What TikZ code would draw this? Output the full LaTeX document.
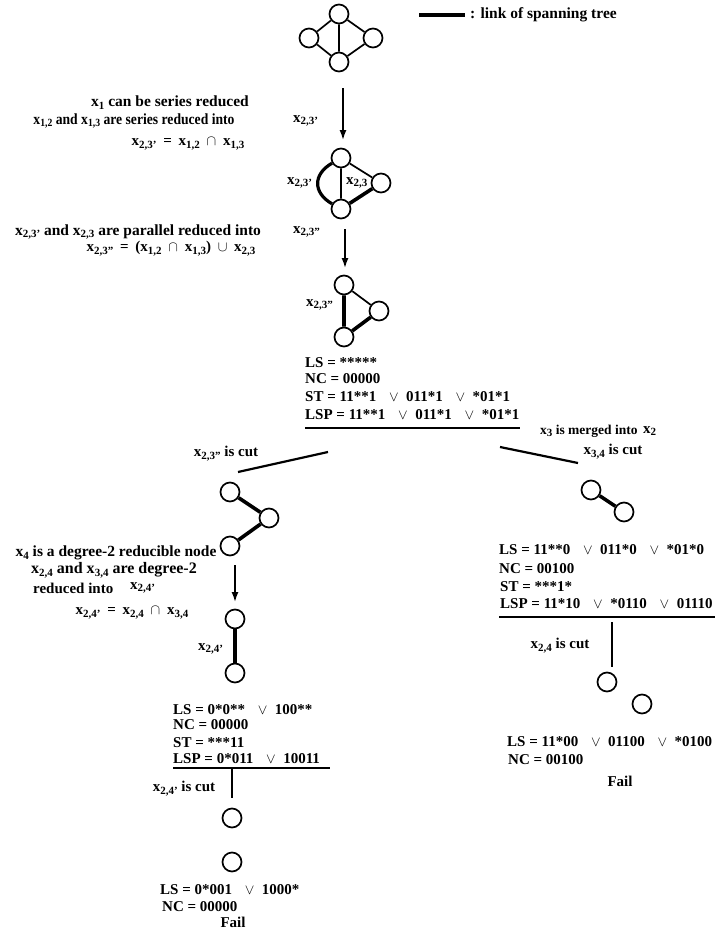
\documentclass[tikz,border=0pt]{standalone}
\usepackage{fontspec}
\setmainfont{Liberation Serif}
\usetikzlibrary{arrows.meta}
\newcommand\xx[1]{x\raisebox{-0.4ex}{\fontsize{11}{11}\selectfont #1}}
\newcommand\Or{\hspace{0.85em}$\vee$\hspace{0.5em}}
\newcommand\Eq{\hspace{0.45em}=\hspace{0.45em}}
\newcommand\Cap{\hspace{0.45em}$\cap$\hspace{0.45em}}
\newcommand\Cup{\hspace{0.45em}$\cup$\hspace{0.45em}}
\begin{document}
\begin{tikzpicture}[x=1pt,y=-1pt,
  vtx/.style={circle,draw,line width=1.7pt,minimum size=19pt,inner sep=0pt},
  thin/.style={line width=1.7pt},
  tree/.style={line width=3.6pt},
  txt/.style={font=\fontsize{15}{17}\selectfont\bfseries,inner sep=0pt,anchor=west},
  ctxt/.style={txt,anchor=center},
  big/.style={font=\fontsize{15.5}{17}\selectfont\bfseries},
  arr/.style={line width=1.6pt,-{Latex[length=10pt,width=7pt]}},
  rule/.style={line width=1.6pt},
]
\useasboundingbox (0,0) rectangle (715,932);

% ---- graph 1 and legend
\node[vtx] (a1) at (339,14) {};
\node[vtx] (a2) at (309,38) {};
\node[vtx] (a3) at (373,38) {};
\node[vtx] (a4) at (339,62) {};
\draw[thin] (a1)--(a2) (a1)--(a3) (a1)--(a4) (a2)--(a4) (a3)--(a4);
\coordinate (lg1) at (419,15); \coordinate (lg2) at (465,15);
\draw[tree] (lg1)--(lg2);
\node[txt,big] (lgt) at (470,15) {: link of spanning tree};

% ---- step 1
\coordinate (r1s) at (343,88); \coordinate (r1e) at (343,140);
\draw[arr] (r1s)--(r1e);
\node[ctxt,big] (t1) at (170,103) {\xx{1} can be series reduced};
\node[ctxt,big] (t2) at (134,121) {\scalebox{0.88}[1]{\xx{1,2} and \xx{1,3} are series reduced into}};
\node[txt] (t3) at (293,121) {\xx{2,3'}};
\node[ctxt] (t4) at (188,144) {\xx{2,3'}\Eq\xx{1,2}\Cap\xx{1,3}};

% ---- graph 2
\node[vtx] (b1) at (341,158) {};
\node[vtx] (b2) at (381,183) {};
\node[vtx] (b3) at (341,209) {};
\draw[thin] (b1)--(b2) (b1)--(b3);
\draw[tree] (b3)--(b2);
\draw[line width=3.2pt] (b1) to[out=210,in=150,looseness=1.4] (b3);
\node[txt] (bl1) at (287,183) {\xx{2,3'}};
\node[txt] (bl2) at (346,183) {\xx{2,3}};

% ---- step 2
\coordinate (r2s) at (345,229); \coordinate (r2e) at (345,268);
\draw[arr] (r2s)--(r2e);
\node[ctxt,big] (t5) at (138,232) {\xx{2,3'} and \xx{2,3} are parallel reduced into};
\node[txt] (t6) at (293,232) {\xx{2,3''}};
\node[ctxt] (t7) at (171,249) {\xx{2,3''}\Eq(\xx{1,2}\Cap\xx{1,3})\Cup\xx{2,3}};

% ---- graph 3
\node[vtx] (c1) at (344,285) {};
\node[vtx] (c2) at (379,311) {};
\node[vtx] (c3) at (344,337) {};
\draw[tree] (c1)--(c3) (c3)--(c2);
\draw[thin] (c1)--(c2);
\node[txt] (cl) at (306,305) {\xx{2,3''}};

% ---- block 1
\node[txt] (s1a) at (305,363) {LS = *****};
\node[txt] (s1b) at (305,379) {NC = 00000};
\node[txt] (s1c) at (305,397) {ST = 11**1\Or 011*1\Or *01*1};
\node[txt] (s1d) at (305,415) {LSP = 11**1\Or 011*1\Or *01*1};
\coordinate (u1a) at (305,428); \coordinate (u1b) at (520,428);
\draw[rule] (u1a)--(u1b);

% ---- branches
\coordinate (bl1s) at (328,452); \coordinate (bl1e) at (238,472);
\coordinate (br1s) at (500,447); \coordinate (br1e) at (578,463);
\draw[line width=2.2pt] (bl1s)--(bl1e) (br1s)--(br1e);
\node[ctxt] (cutL) at (226,454) {\xx{2,3''} is cut};
\node[txt,font=\fontsize{13.5}{16}\selectfont\bfseries] (mrg) at (540,431) {\xx{3} is merged into};
\node[txt] (mrg2) at (643,431) {\xx{2}};
\node[ctxt] (cutR) at (613,452) {\xx{3,4} is cut};

% ---- left branch
\node[vtx] (d1) at (230,492) {};
\node[vtx] (d2) at (269,518) {};
\node[vtx] (d3) at (230,546) {};
\draw[tree] (d1)--(d2) (d3)--(d2);
\coordinate (r3s) at (235,565); \coordinate (r3e) at (235,602);
\draw[arr] (r3s)--(r3e);
\node[ctxt,big] (t8) at (116,553) {\xx{4} is a degree-2 reducible node};
\node[ctxt,font=\fontsize{16}{18}\selectfont\bfseries] (t9) at (114,570) {\xx{2,4} and \xx{3,4} are degree-2};
\node[txt] (t10) at (33,588) {reduced into};
\node[txt] (t10b) at (130,588) {\xx{2,4'}};
\node[ctxt] (t11) at (132,613) {\xx{2,4'}\Eq\xx{2,4}\Cap\xx{3,4}};
\node[vtx] (e1) at (235,619) {};
\node[vtx] (e2) at (235,673) {};
\draw[tree] (e1)--(e2);
\node[txt] (el) at (198,649) {\xx{2,4'}};
\node[txt] (s2a) at (173,710) {LS = 0*0**\Or 100**};
\node[txt] (s2b) at (173,725) {NC = 00000};
\node[txt] (s2c) at (173,743) {ST = ***11};
\node[txt] (s2d) at (173,759) {LSP = 0*011\Or 10011};
\coordinate (u2a) at (173,768); \coordinate (u2b) at (330,768);
\draw[rule] (u2a)--(u2b);
\coordinate (v2s) at (232,769); \coordinate (v2e) at (232,798);
\draw[line width=2.2pt] (v2s)--(v2e);
\node[ctxt] (cut2) at (184,789) {\xx{2,4'} is cut};
\node[vtx] (f1) at (232,818) {};
\node[vtx] (f2) at (232,862) {};
\node[txt] (s3a) at (160,890) {LS = 0*001\Or 1000*};
\node[txt] (s3b) at (162,907) {NC = 00000};
\node[ctxt] (s3c) at (233,922) {Fail};

% ---- right branch
\node[vtx] (h1) at (591,490) {};
\node[vtx] (h2) at (624,512) {};
\draw[tree] (h1)--(h2);
\node[txt] (s4a) at (499,550) {LS = 11**0\Or 011*0\Or *01*0};
\node[txt] (s4b) at (499,569) {NC = 00100};
\node[txt] (s4c) at (500,587) {ST = ***1*};
\node[txt] (s4d) at (500,604) {LSP = 11*10\Or *0110\Or 01110};
\coordinate (u4a) at (499,617); \coordinate (u4b) at (715,617);
\draw[rule] (u4a)--(u4b);
\coordinate (v4s) at (612,622); \coordinate (v4e) at (612,667);
\draw[line width=2.2pt] (v4s)--(v4e);
\node[ctxt] (cut4) at (560,646) {\xx{2,4} is cut};
\node[vtx] (j1) at (607,682) {};
\node[vtx] (j2) at (642,704) {};
\node[txt] (s5a) at (507,742) {LS = 11*00\Or 01100\Or *0100};
\node[txt] (s5b) at (508,760) {NC = 00100};
\node[ctxt] (s5c) at (620,781) {Fail};
\end{tikzpicture}
\end{document}
